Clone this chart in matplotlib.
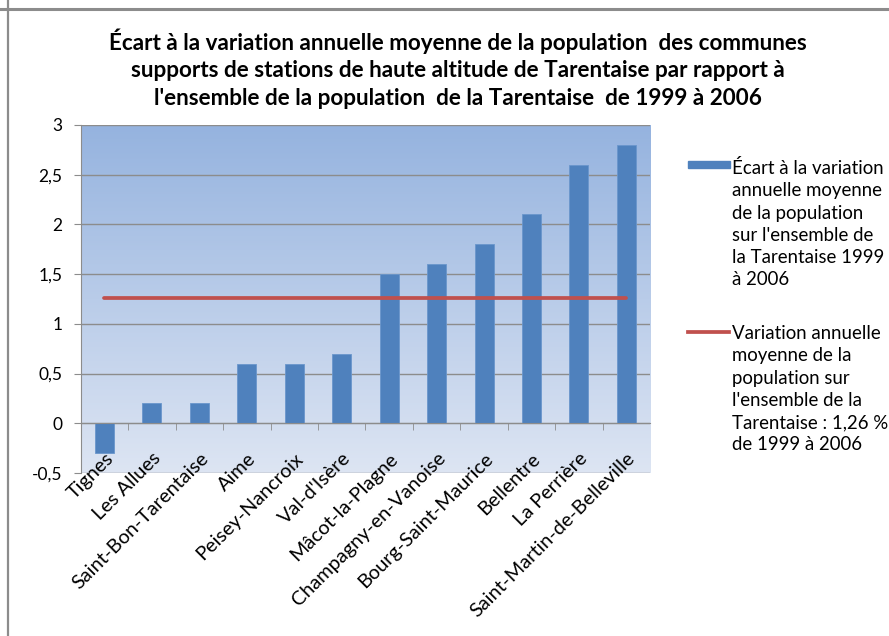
import numpy as np
import matplotlib
matplotlib.use("Agg")
import matplotlib.pyplot as plt
from matplotlib.colors import LinearSegmentedColormap
from matplotlib.lines import Line2D
from matplotlib.patches import Rectangle
from matplotlib.ticker import FuncFormatter

plt.rcParams['font.family'] = ['Lato', 'DejaVu Sans']

# Data
communes = ["Tignes", "Les Allues", "Saint-Bon-Tarentaise", "Aime", "Peisey-Nancroix",
            "Val-d'Isère", "Mâcot-la-Plagne", "Champagny-en-Vanoise",
            "Bourg-Saint-Maurice", "Bellentre", "La Perrière",
            "Saint-Martin-de-Belleville"]
ecart = [-0.3, 0.2, 0.2, 0.6, 0.6, 0.7, 1.5, 1.6, 1.8, 2.1, 2.6, 2.8]
variation_tarentaise = 1.26
y_ticks = [-0.5, 0, 0.5, 1, 1.5, 2, 2.5, 3]

title = ("Écart à la variation annuelle moyenne de la population  des communes\n"
         "supports de stations de haute altitude de Tarentaise par rapport à\n"
         "l'ensemble de la population  de la Tarentaise  de 1999 à 2006")
label_bars = ("Écart à la variation\nannuelle moyenne\nde la population\n"
              "sur l'ensemble de\nla Tarentaise 1999\nà 2006")
label_line = ("Variation annuelle\nmoyenne de la\npopulation sur\n"
              "l'ensemble de la\nTarentaise : 1,26 %\nde 1999 à 2006")

bar_color = "#4F81BD"
line_color = "#C0504D"
grid_color = "#8C8C8C"

fig = plt.figure(figsize=(8.89, 6.36), dpi=100)
ax = fig.add_axes([0.0908, 0.2563, 0.6405, 0.5472])

n = len(communes)
x = np.arange(n)
ax.set_xlim(-0.5, n - 0.5)
ax.set_ylim(y_ticks[0], y_ticks[-1])

# vertical gradient background of the plot area
cmap = LinearSegmentedColormap.from_list("bg", ["#DDE5F3", "#95B3DF"])
grad = np.linspace(0, 1, 256).reshape(-1, 1)
ax.imshow(grad, cmap=cmap, extent=[-0.5, n - 0.5, y_ticks[0], y_ticks[-1]],
          origin="lower", aspect="auto", zorder=0)

ax.bar(x, ecart, width=0.4, color=bar_color, edgecolor="#6A96CC", linewidth=0.6, zorder=2)
ax.plot(x, [variation_tarentaise] * n, color=line_color, linewidth=2.7,
        solid_capstyle="round", zorder=3)

# axes styling
ax.set_yticks(y_ticks)
ax.yaxis.set_major_formatter(FuncFormatter(lambda v, p: f"{v:g}".replace(".", ",")))
ax.grid(axis="y", color=grid_color, linewidth=1.0)
ax.tick_params(axis="y", direction="out", length=5, color=grid_color,
               labelsize=12.5, pad=8)
for s in ("top", "right"):
    ax.spines[s].set_visible(False)
ax.spines["left"].set_color(grid_color)
ax.spines["bottom"].set_position(("data", 0))
ax.spines["bottom"].set_color(grid_color)

ax.set_xticks(x)
ax.set_xticklabels(communes)
ax.set_xticks(np.arange(1, n) - 0.5, minor=True)
ax.tick_params(axis="x", which="major", length=0, labelsize=14.3, pad=19)
ax.tick_params(axis="x", which="minor", length=5, color=grid_color, direction="out")
for lab in ax.get_xticklabels():
    lab.set_rotation(45)
    lab.set_ha("right")
    lab.set_va("top")
    lab.set_rotation_mode("anchor")
# category labels sit on top of the bars
ax.xaxis.set_zorder(3.5)

fig.text(0.515, 1 - 28 / 636, title, ha="center", va="top", fontsize=16.2,
         fontweight="bold", linespacing=1.40)

# legend
tr = fig.transFigure
fig.add_artist(Rectangle((688 / 889, 1 - 168 / 636), 42 / 889, 7 / 636,
                         transform=tr, color=bar_color))
fig.text(732 / 889, 1 - 159 / 636, label_bars, ha="left", va="top",
         fontsize=13.4, linespacing=1.375)
fig.add_artist(Line2D([688 / 889, 729 / 889], [1 - 332 / 636, 1 - 332 / 636],
                      transform=tr, color=line_color, linewidth=2.7))
fig.text(732 / 889, 1 - 325 / 636, label_line, ha="left", va="top",
         fontsize=13.4, linespacing=1.375)

# outer frame lines
fig.add_artist(Line2D([0, 1], [1 - 9 / 636, 1 - 9 / 636], transform=tr,
                      color="#8C8C8C", linewidth=2.2))
fig.add_artist(Line2D([8 / 889, 8 / 889], [0, 1], transform=tr,
                      color="#8C8C8C", linewidth=1.6))

fig.savefig("out.png", dpi=100)
